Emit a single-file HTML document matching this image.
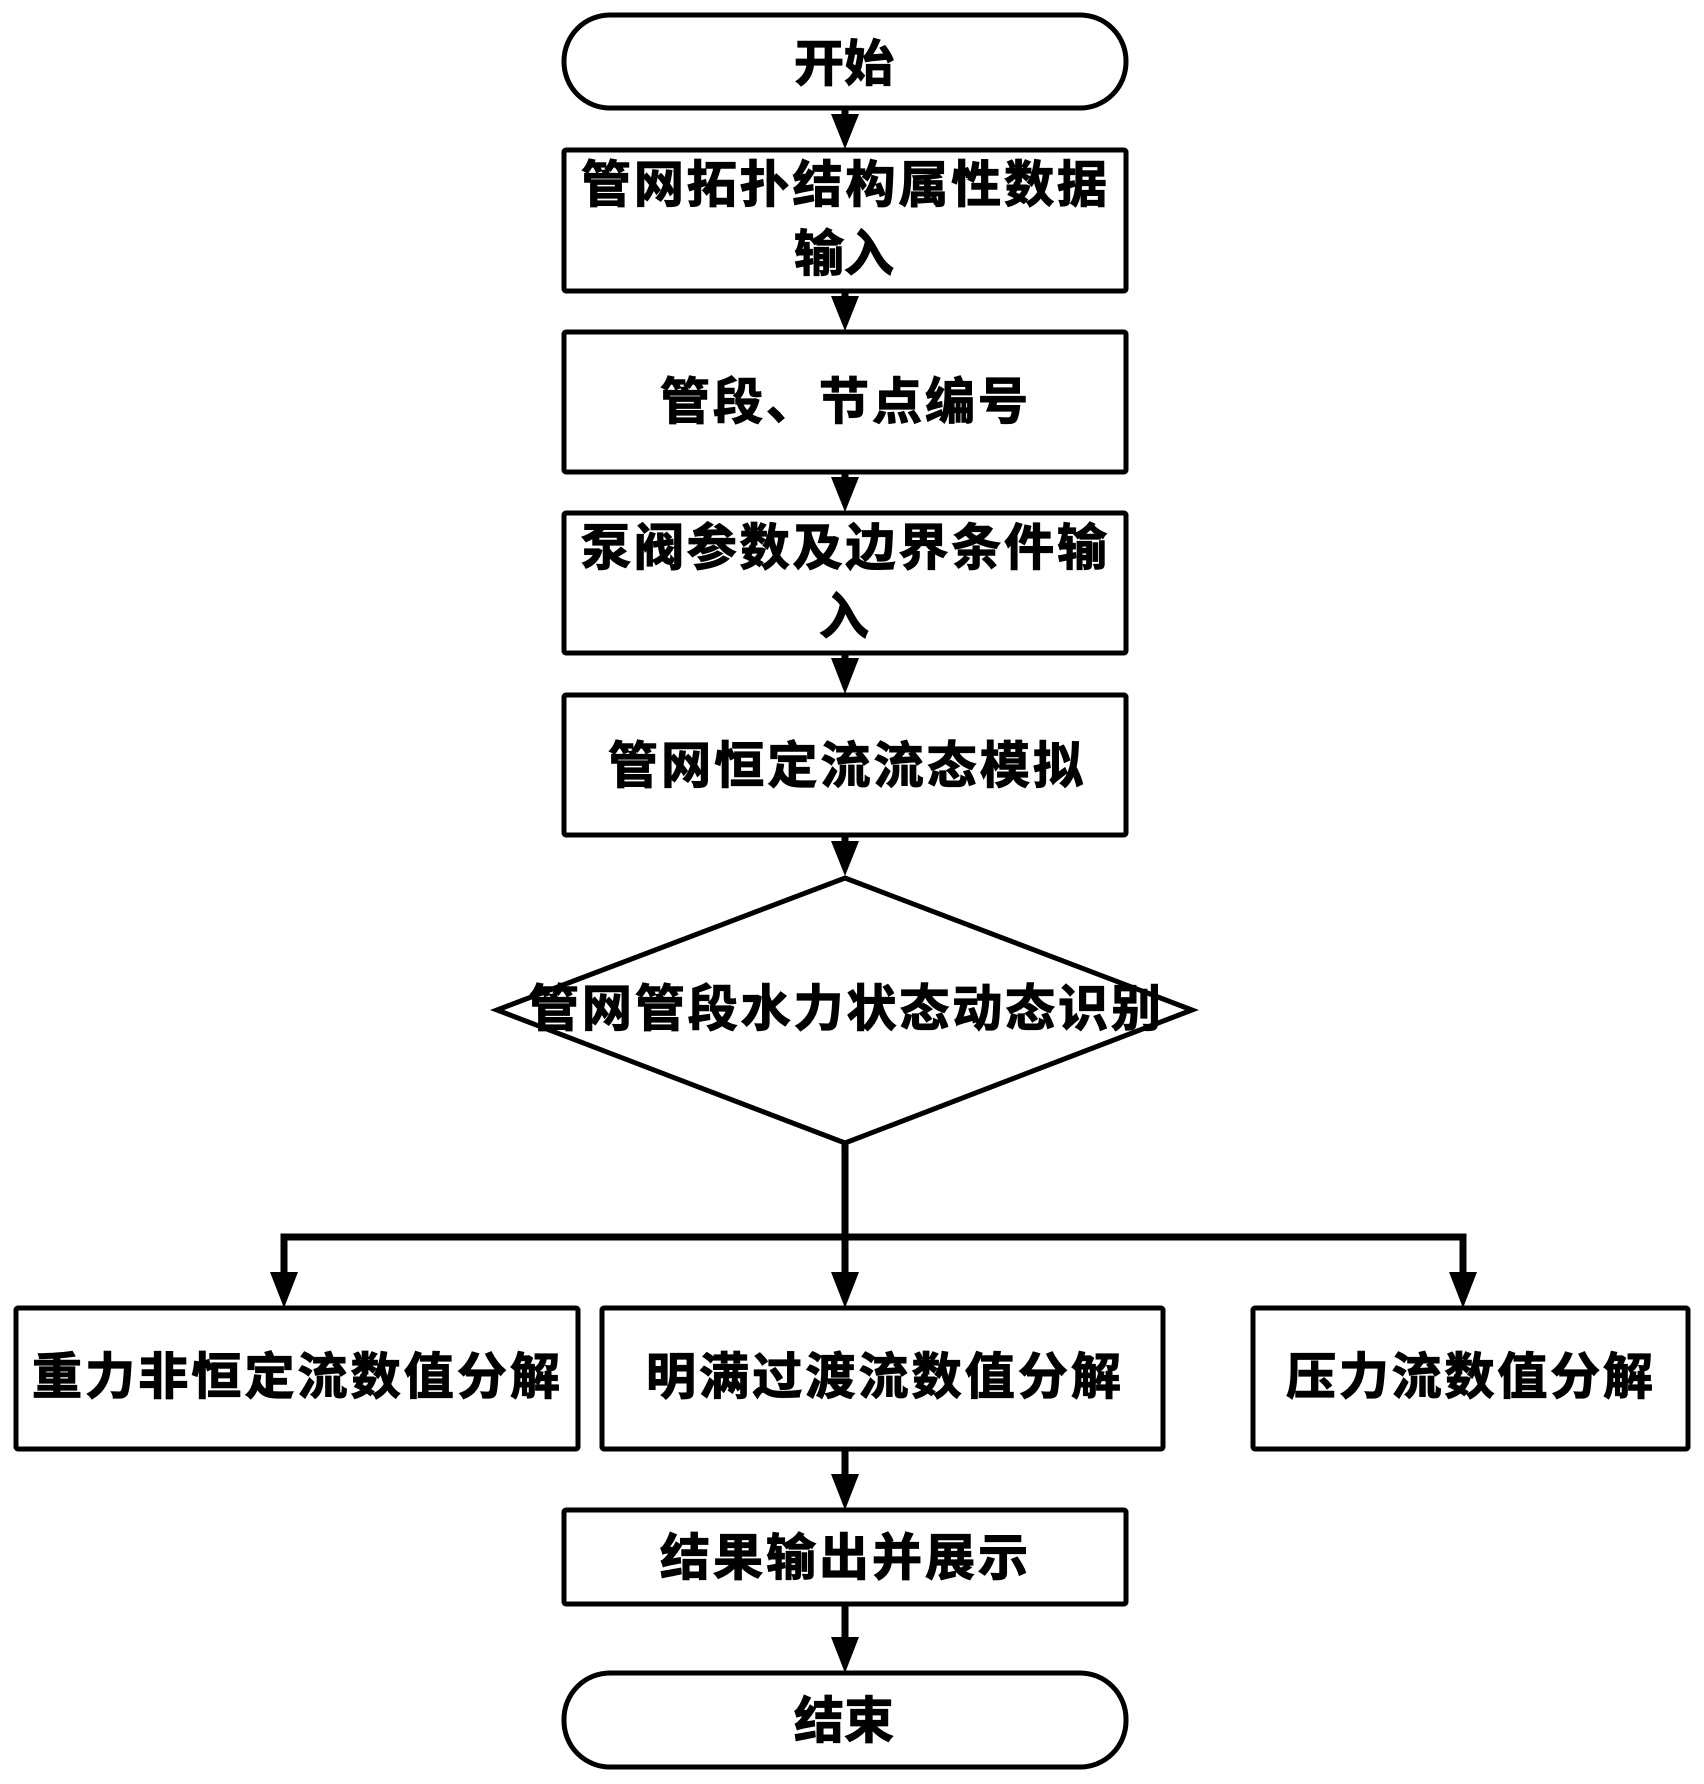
<!DOCTYPE html>
<html lang="zh"><head><meta charset="utf-8">
<style>
html,body{margin:0;padding:0;background:#fff;width:1704px;height:1784px;overflow:hidden}
svg{display:block}
text{font-family:"Liberation Sans","Noto Sans CJK SC",sans-serif;font-weight:700;font-size:50px;fill:#000;stroke:#000;stroke-width:1.2px}
.b{fill:#fff;stroke:#000;stroke-width:5}
.l{stroke:#000;stroke-width:7;fill:none}
</style></head><body>
<svg width="1704" height="1784" viewBox="0 0 1704 1784" xmlns="http://www.w3.org/2000/svg">
<rect x="0" y="0" width="1704" height="1784" fill="#fff"/>

<rect class="b" x="564" y="15" width="562" height="93" rx="46" ry="46"/>
<rect class="b" x="564" y="150" width="562" height="141" rx="2"/>
<rect class="b" x="564" y="332" width="562" height="140" rx="2"/>
<rect class="b" x="564" y="513" width="562" height="140" rx="2"/>
<rect class="b" x="564" y="695" width="562" height="140" rx="2"/>
<polygon class="b" points="845,878 1192,1010 845,1143 497,1010"/>
<rect class="b" x="16" y="1308" width="562" height="141" rx="2"/>
<rect class="b" x="602" y="1308" width="561" height="141" rx="2"/>
<rect class="b" x="1253" y="1308" width="435" height="141" rx="2"/>
<rect class="b" x="564" y="1510" width="562" height="94" rx="2"/>
<rect class="b" x="564" y="1673" width="562" height="94" rx="46" ry="46"/>

<path class="l" d="M845 108V125M845 291V305M845 472V486M845 653V667M845 835V850M845 1143V1280M284 1280V1237H1463V1280M845 1449V1480M845 1604V1640"/>
<path d="M831 114H859L845 149ZM831 296H859L845 331ZM831 477H859L845 512ZM831 658H859L845 694ZM831 841H859L845 876ZM831 1272H859L845 1308ZM270 1272H298L284 1308ZM1449 1272H1477L1463 1308ZM831 1474H859L845 1510ZM831 1637H859L845 1673Z" fill="#000"/>

<text x="794" y="81" textLength="100">开始</text>
<text x="581" y="202" textLength="526">管网拓扑结构属性数据</text>
<text x="794" y="271" textLength="100">输入</text>
<text x="660" y="419" textLength="368">管段、节点编号</text>
<text x="581" y="565" textLength="526">泵阀参数及边界条件输</text>
<text x="819" y="634" textLength="50">入</text>
<text x="608" y="783" textLength="475">管网恒定流流态模拟</text>
<text x="529" y="1026" textLength="632">管网管段水力状态动态识别</text>
<text x="32" y="1394" textLength="528">重力非恒定流数值分解</text>
<text x="646" y="1394" textLength="475">明满过渡流数值分解</text>
<text x="1286" y="1394" textLength="367">压力流数值分解</text>
<text x="660" y="1575" textLength="368">结果输出并展示</text>
<text x="794" y="1738" textLength="100">结束</text>
</svg>
</body></html>
